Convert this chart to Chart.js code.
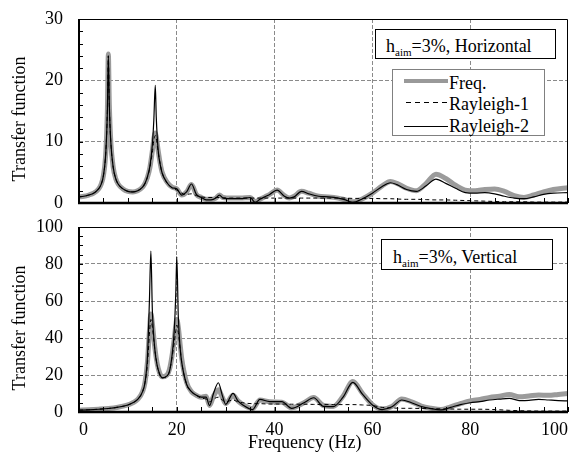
<!DOCTYPE html>
<html>
<head>
<meta charset="utf-8">
<script src="https://cdn.jsdelivr.net/npm/chart.js@4.4.1/dist/chart.umd.min.js"></script>
<style>
  html, body { margin: 0; padding: 0; background: #fff; }
  #wrap { position: relative; width: 569px; height: 452px; overflow: hidden;
          font-family: "Liberation Serif", "Times New Roman", serif; color: #000; }
  canvas { position: absolute; left: 0; }
  #topChart { top: 0; }
  #botChart { top: 215px; }
  .txt { position: absolute; font-size: 18px; line-height: 18px; white-space: nowrap; }
  .ytitle { transform: translate(-50%, -50%) rotate(-90deg); }
  .box { position: absolute; background: #fff; box-sizing: border-box; }
  sub { font-size: 11px; vertical-align: -4px; line-height: 0; }
</style>
</head>
<body>
<div id="wrap">
  <canvas id="topChart" width="569" height="215"></canvas>
  <canvas id="botChart" width="569" height="237"></canvas>

  <div class="txt ytitle" style="left:19px; top:119px;">Transfer function</div>
  <div class="txt ytitle" style="left:19px; top:328px;">Transfer function</div>
  <div class="txt" style="left:248px; top:433px;">Frequency (Hz)</div>

  <div class="box" style="left:375px; top:29px; width:181px; height:30px; border:1px solid #000;">
    <div class="txt" style="left:10px; top:7px;">h<sub>aim</sub>=3%, Horizontal</div>
  </div>

  <div class="box" style="left:392px; top:69px; width:153px; height:67px; border:1px solid #808080;">
    <svg width="60" height="66" style="position:absolute; left:0; top:0;">
      <line x1="11" y1="11" x2="55" y2="11" stroke="#999" stroke-width="4"/>
      <line x1="13" y1="32.5" x2="55" y2="32.5" stroke="#000" stroke-width="1" stroke-dasharray="5,4"/>
      <line x1="11" y1="56.5" x2="55" y2="56.5" stroke="#000" stroke-width="1"/>
    </svg>
    <div class="txt" style="left:56px; top:4px;">Freq.</div>
    <div class="txt" style="left:56px; top:25px;">Rayleigh-1</div>
    <div class="txt" style="left:56px; top:47px;">Rayleigh-2</div>
  </div>

  <div class="box" style="left:381px; top:239px; width:172px; height:31px; border:1px solid #000;">
    <div class="txt" style="left:11px; top:8px;">h<sub>aim</sub>=3%, Vertical</div>
  </div>
</div>

<script>
// ---- tick values ----
const xTicks = [0, 5, 10, 15, 20, 25, 30, 35, 40, 45, 50, 55, 60, 65, 70, 75, 80, 85, 90, 95, 100];
const xLabels = [0, 20, 40, 60, 80, 100];
const topYTicks = [0, 2, 4, 6, 8, 10, 12, 14, 16, 18, 20, 22, 24, 26, 28, 30];
const topYLabels = [0, 10, 20, 30];
const botYTicks = [0, 5, 10, 15, 20, 25, 30, 35, 40, 45, 50, 55, 60, 65, 70, 75, 80, 85, 90, 95, 100];
const botYLabels = [0, 20, 40, 60, 80, 100];

// ---- top panel (Horizontal) ----
const topFreq = [0, 1, 2, 3, 4, 4.5, 5, 5.5, 5.8, 6, 6.2, 6.5, 7, 7.5, 8, 9, 10, 11, 12, 13, 13.5, 14, 14.5, 15,
  15.3, 15.6, 15.8, 16.2, 16.6, 17, 18, 19, 20, 21, 22, 23, 24, 25, 26, 27, 28, 28.7, 29.5, 31, 33, 35, 36, 37,
  38, 39, 40.5, 42, 43, 44, 45.5, 47, 49, 51, 53, 54.5, 56, 58, 60, 62, 63.7, 65, 67, 69, 71, 73, 75, 77, 79,
  81, 83, 85, 87, 89, 91, 93, 95, 97, 100];
const topMeasured = [1.0, 1.1, 1.3, 1.6, 2.3, 3.0, 4.5, 8.5, 15, 24.3, 16, 10, 5.8, 4.0, 3.1, 2.3, 1.9, 1.8, 2.0, 2.6, 3.2, 4.2, 5.8, 8.5,
  10.5, 11.4, 10.8, 8.5, 6.5, 5.0, 3.4, 2.6, 2.3, 1.3, 1.8, 3.0, 1.4, 0.9, 0.6, 0.6, 0.8, 1.3, 0.9, 0.8, 0.8, 0.9, 0.2, 0.6,
  1.0, 1.4, 2.1, 1.2, 0.8, 1.1, 1.9, 1.6, 1.1, 1.0, 0.8, 0.5, 0.2, 0.7, 1.6, 2.8, 3.5, 3.2, 2.4, 2.0, 3.2, 4.7, 4.0, 2.9, 2.1,
  2.0, 2.2, 2.3, 1.9, 1.2, 0.9, 1.3, 1.8, 2.2, 2.5];
const topRayleigh1 = [1.0, 1.1, 1.3, 1.6, 2.3, 3.0, 4.5, 8.5, 15, 24.0, 16, 10, 5.8, 4.0, 3.1, 2.3, 1.9, 1.8, 2.0, 2.6, 3.2, 4.2, 5.8, 8.3,
  10.2, 11.0, 10.5, 8.3, 6.4, 4.9, 3.3, 2.5, 2.1, 1.6, 1.4, 1.5, 1.2, 1.0, 0.9, 0.9, 0.9, 0.9, 0.85, 0.8, 0.8, 0.8, 0.8, 0.8,
  0.8, 0.8, 0.8, 0.8, 0.8, 0.8, 0.8, 0.8, 0.8, 0.8, 0.8, 0.8, 0.75, 0.75, 0.75, 0.7, 0.7, 0.65, 0.6, 0.6, 0.55, 0.5, 0.5, 0.45, 0.4,
  0.35, 0.3, 0.25, 0.2, 0.2, 0.2, 0.15, 0.15, 0.15, 0.15];
const topRayleigh2 = [1.0, 1.1, 1.3, 1.6, 2.3, 3.0, 4.5, 8.5, 15, 24.0, 16, 10, 5.8, 4.0, 3.1, 2.3, 1.9, 1.8, 2.0, 2.6, 3.2, 4.3, 6.0, 9.5,
  13.5, 19.2, 14, 8.5, 6.3, 4.9, 3.3, 2.5, 2.3, 1.3, 1.8, 3.1, 1.4, 0.9, 0.5, 0.5, 0.8, 1.3, 0.8, 0.7, 0.7, 0.9, 0.1, 0.6,
  1.0, 1.4, 2.1, 1.1, 0.8, 1.0, 1.9, 1.5, 1.1, 1.0, 0.8, 0.5, 0.1, 0.7, 1.6, 2.7, 3.3, 3.0, 2.2, 1.9, 2.8, 3.9, 3.2, 2.4, 1.7,
  1.6, 1.7, 1.5, 1.1, 0.8, 0.7, 1.0, 1.4, 1.6, 1.7];

// ---- bottom panel (Vertical) ----
const botFreq = [0, 2, 4, 6, 8, 10, 11, 12, 13, 13.5, 14, 14.4, 14.7, 15, 15.5, 16, 16.5, 17, 18, 18.5, 19, 19.5,
  19.8, 20, 20.3, 20.7, 21, 22, 23, 24, 25, 26, 26.7, 27.5, 28.5, 29.3, 30, 31.5, 32.5, 33.5, 35.5, 37, 39, 41.5,
  43.5, 46, 48, 50, 52, 54, 56, 58, 60, 62, 64, 66, 68, 70, 72, 74, 76, 78, 80, 82, 84, 86, 88, 90, 92, 94, 96, 98, 100];
const botMeasured = [1.0, 1.2, 1.5, 1.9, 2.6, 3.8, 5.0, 6.8, 11, 16, 27, 44, 53, 48, 35, 26, 21, 19, 20, 23, 30, 40,
  47, 50, 46, 36, 29, 16, 11, 9, 8, 8.5, 3.5, 8.5, 12, 8, 4.5, 9, 6, 4, 1.8, 6.5, 5.5, 5.3,
  2.3, 5, 7.8, 3.5, 3, 8.5, 16.5, 10, 4, 1.6, 3, 7, 5.5, 3.2, 2, 1.3, 2.8, 4.5, 6, 6.8, 7.9, 8.5, 9.5, 8.2, 8.6, 9.2, 9, 9.5, 10];
const botRayleigh1 = [1.0, 1.2, 1.5, 1.9, 2.6, 3.8, 5.0, 6.8, 11, 16, 26, 42, 50, 46, 34, 25, 20, 18.5, 19.5, 22, 29, 38,
  44, 47, 43, 34, 27, 15, 11, 9, 7.5, 7, 5.5, 7, 8, 6.5, 5.5, 6.5, 5.5, 5, 4.5, 4.5, 4.3, 4.3,
  4.2, 4.2, 4.1, 4, 4, 4, 4, 3.8, 3.5, 2.5, 2.2, 2, 2, 1.9, 1.8, 1.7, 1.6, 1.5, 1.5, 1.5, 1.4, 1.2, 0.9, 0.7, 0.6, 0.5, 0.5, 0.5, 0.5];
const botRayleigh2 = [1.0, 1.2, 1.5, 1.9, 2.6, 3.8, 5.0, 6.8, 11, 16, 30, 60, 87, 55, 34, 25, 20.5, 18.5, 19.5, 22, 30, 45,
  65, 84, 52, 34, 27, 15, 11, 9, 8, 8, 3.5, 10, 15.8, 9, 4.1, 10.1, 6, 3.8, 1.3, 6.8, 5.6, 5.6,
  2.0, 5, 7.7, 3, 2.9, 8, 16, 9.5, 3.8, 1.3, 2.8, 6.5, 5, 3, 1.8, 1.1, 2.5, 4, 5, 5.6, 6.5, 7, 7.4, 6.2, 6.3, 6.8, 6.5, 6.2, 6];

const FONT = { family: "'Liberation Serif', 'Times New Roman', serif", size: 18 };

const toPoints = (xs, ys) => xs.map((x, i) => ({ x: x, y: ys[i] }));

// kill the extra room chart.js keeps for overhanging tick labels
const noPadding = (scale) => {
  scale.paddingLeft = 0;
  scale.paddingRight = 0;
  scale.paddingTop = 0;
  scale.paddingBottom = 0;
};

// inward tick marks and the plot frame
const framePlugin = {
  id: 'frame',
  afterDraw(chart) {
    const { ctx, chartArea: a, scales: { x, y } } = chart;
    ctx.save();
    ctx.strokeStyle = '#000';
    ctx.lineWidth = 1;
    x.ticks.forEach((t) => {
      const px = Math.round(x.getPixelForValue(t.value)) + 0.5;
      ctx.beginPath();
      ctx.moveTo(px, a.bottom);
      ctx.lineTo(px, a.bottom - 5);
      ctx.stroke();
    });
    y.ticks.forEach((t) => {
      const py = Math.round(y.getPixelForValue(t.value)) + 0.5;
      ctx.beginPath();
      ctx.moveTo(a.left, py);
      ctx.lineTo(a.left + 4, py);
      ctx.stroke();
    });
    ctx.beginPath();
    ctx.moveTo(a.left, a.top + 0.5);
    ctx.lineTo(a.right - 0.5, a.top + 0.5);
    ctx.lineTo(a.right - 0.5, a.bottom);
    ctx.stroke();
    ctx.lineWidth = 2;
    ctx.beginPath();
    ctx.moveTo(a.left, a.top);
    ctx.lineTo(a.left, a.bottom);
    ctx.stroke();
    ctx.lineWidth = 2.5;
    ctx.beginPath();
    ctx.moveTo(a.left - 1, a.bottom);
    ctx.lineTo(a.right, a.bottom);
    ctx.stroke();
    ctx.restore();
  }
};

const makeChart = (canvasId, freq, measured, ray1, ray2, yMax, yTicks, yLabels, opts) => {
  return new Chart(document.getElementById(canvasId), {
    type: 'line',
    data: {
      datasets: [
        { label: 'Freq.', data: toPoints(freq, measured), borderColor: '#9b9b9b', borderWidth: 5, order: 3 },
        { label: 'Rayleigh-1', data: toPoints(freq, ray1), borderColor: '#000', borderWidth: 1, borderDash: [4, 3], order: 2 },
        { label: 'Rayleigh-2', data: toPoints(freq, ray2), borderColor: '#000', borderWidth: 1.2, order: 1 },
      ],
    },
    options: {
      responsive: false,
      animation: false,
      devicePixelRatio: 1,
      layout: { padding: { top: opts.padTop, right: 1, left: 0, bottom: 0 } },
      elements: { point: { radius: 0 }, line: { cubicInterpolationMode: 'monotone', borderJoinStyle: 'round' } },
      plugins: { legend: { display: false }, tooltip: { enabled: false } },
      scales: {
        x: {
          type: 'linear',
          min: 0,
          max: 100,
          afterBuildTicks: (scale) => { scale.ticks = xTicks.map((v) => ({ value: v })); },
          afterFit: (scale) => { scale.height = opts.xHeight; noPadding(scale); },
          ticks: {
            display: opts.showX,
            autoSkip: false,
            maxRotation: 0,
            align: 'inner',
            padding: 7,
            color: '#000',
            font: FONT,
            callback: (v) => (xLabels.includes(v) ? v : ''),
          },
          grid: {
            drawTicks: false,
            color: (c) => (c.tick && c.tick.value % 20 === 0 && c.tick.value > 0 && c.tick.value < 100 ? '#8a8a8a' : 'rgba(0,0,0,0)'),
          },
          border: { display: false, dash: [4, 2] },
        },
        y: {
          min: 0,
          max: yMax,
          afterBuildTicks: (scale) => { scale.ticks = yTicks.map((v) => ({ value: v })); },
          afterFit: (scale) => { scale.width = 79; noPadding(scale); },
          ticks: {
            autoSkip: false,
            padding: 16,
            color: '#000',
            font: FONT,
            callback: (v) => (yLabels.includes(v) ? v : ''),
          },
          grid: {
            drawTicks: false,
            color: (c) => (c.tick && yLabels.includes(c.tick.value) && c.tick.value > 0 && c.tick.value < yMax ? '#8a8a8a' : 'rgba(0,0,0,0)'),
          },
          border: { display: false, dash: [4, 2] },
        },
      },
    },
    plugins: [framePlugin],
  });
};

makeChart('topChart', topFreq, topMeasured, topRayleigh1, topRayleigh2, 30, topYTicks, topYLabels,
  { padTop: 19, xHeight: 12, showX: false });
makeChart('botChart', botFreq, botMeasured, botRayleigh1, botRayleigh2, 100, botYTicks, botYLabels,
  { padTop: 12, xHeight: 40, showX: true });
</script>
</body>
</html>
